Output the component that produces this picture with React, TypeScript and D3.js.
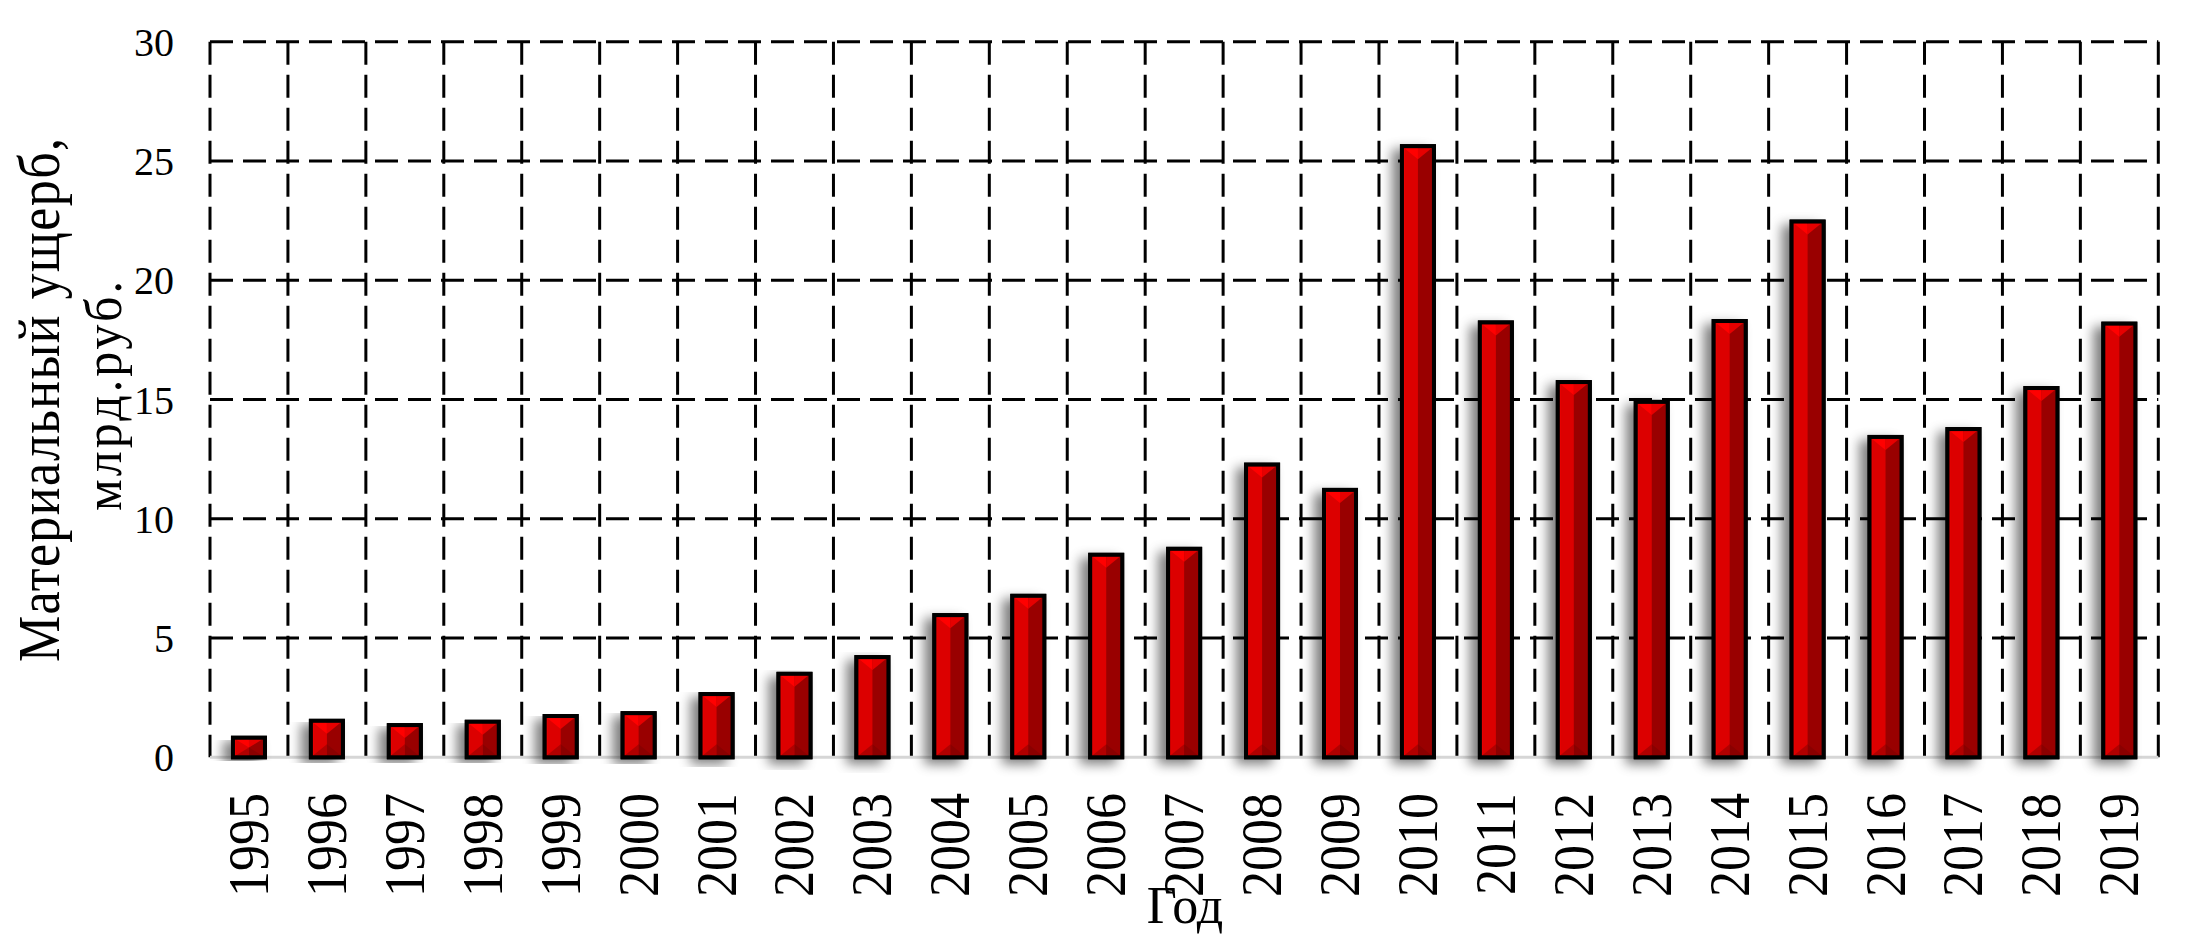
import React from 'react';
import * as d3 from 'd3';

const years = ['1995','1996','1997','1998','1999','2000','2001','2002','2003','2004','2005','2006','2007','2008','2009','2010','2011','2012','2013','2014','2015','2016','2017','2018','2019'];
const damage = [0.82,1.53,1.35,1.49,1.73,1.85,2.65,3.5,4.2,5.96,6.77,8.49,8.74,12.27,11.21,25.62,18.23,15.73,14.9,18.29,22.46,13.43,13.76,15.48,18.18];
const yTicks = [0,5,10,15,20,25,30];
const yTitle1 = 'Материальный ущерб,';
const yTitle2 = 'млрд.руб.';
const xTitle = 'Год';

const W = 2209, H = 943;
const left = 210, right = 2158.3, top = 41.7, bottom = 757.3;
const FONT = '"Liberation Serif", "Times New Roman", serif';

export default function App() {
  const x = d3.scaleBand<string>().domain(years).range([left, right]).padding(0);
  const y = d3.scaleLinear().domain([0, 30]).range([bottom, top]);
  const bw = x.bandwidth();
  const barW = 32;
  const boundaries = d3.range(years.length + 1).map(i => left + i * bw);

  return (
    <svg width={W} height={H} style={{ position: 'absolute', left: 0, top: 0, background: '#fff' }}>
      <defs>
        <filter id="sh" x="-100%" y="-10%" width="250%" height="125%">
          <feGaussianBlur in="SourceAlpha" stdDeviation="6" />
          <feOffset dx="-8" dy="5" result="b" />
          <feFlood floodColor="#000" floodOpacity="0.5" />
          <feComposite in2="b" operator="in" />
          <feMerge>
            <feMergeNode />
            <feMergeNode in="SourceGraphic" />
          </feMerge>
        </filter>
      </defs>
      <rect x={0} y={0} width={W} height={H} fill="#fff" />
      {/* horizontal gridlines */}
      {yTicks.filter(t => t > 0).map(t => (
        <line key={'h' + t} x1={left} x2={right} y1={y(t)} y2={y(t)} stroke="#000" strokeWidth={3} strokeDasharray="23 10" />
      ))}
      {/* vertical gridlines */}
      {boundaries.map((bx, i) => (
        <line key={'v' + i} x1={bx} x2={bx} y1={top} y2={bottom} stroke="#000" strokeWidth={3} strokeDasharray="23 10" />
      ))}
      {/* axis line */}
      <line x1={left} x2={right} y1={bottom} y2={bottom} stroke="#d6d6d6" strokeWidth={3} />
      {/* bars */}
      {years.map((yr, i) => {
        const cx = (x(yr) as number) + bw / 2;
        const xl = cx - barW / 2, xr = cx + barW / 2, xs = cx;
        const yt = y(damage[i]), yb = y(0);
        const h = yb - yt;
        const d = Math.min(13, h / 2);
        return (
          <g key={yr}>
            <g filter="url(#sh)">
              <rect x={xl} y={yt} width={barW} height={h} fill="#dc0000" stroke="#000" strokeWidth={4} />
            </g>
            <rect x={xs} y={yt} width={xr - xs} height={h} fill="#990000" />
            <rect x={xl} y={yt} width={3} height={h} fill="#e80000" />
            <polygon points={`${xl},${yt} ${xs},${yt} ${xs},${yt + d}`} fill="#ff0000" />
            <polygon points={`${xs},${yt} ${xr},${yt} ${xs},${yt + d}`} fill="#e60000" />
            <polygon points={`${xl},${yb} ${xs},${yb} ${xs},${yb - d}`} fill="#b00000" />
            <polygon points={`${xs},${yb} ${xr},${yb} ${xs},${yb - d}`} fill="#8a0000" />
            <rect x={xl} y={yt} width={barW} height={h} fill="none" stroke="#000" strokeWidth={4} />
          </g>
        );
      })}
      {/* y tick labels */}
      {yTicks.map(t => (
        <text key={'t' + t} x={174} y={y(t)} dy="0.35em" textAnchor="end" fontFamily={FONT} fontSize={40} fill="#000">{t}</text>
      ))}
      {/* x tick labels */}
      {years.map(yr => {
        const cx = (x(yr) as number) + bw / 2;
        return (
          <text key={'x' + yr} transform={`translate(${cx + 19},793) scale(1.1,1) rotate(-90)`} textAnchor="end" fontFamily={FONT} fontSize={52} fill="#000">{yr}</text>
        );
      })}
      {/* y title */}
      <text transform={`translate(59,400) scale(1.13,1) rotate(-90)`} textAnchor="middle" fontFamily={FONT} fontSize={52} textLength={524} lengthAdjust="spacing" fill="#000">{yTitle1}</text>
      <text transform={`translate(121,396) scale(1.05,1) rotate(-90)`} textAnchor="middle" fontFamily={FONT} fontSize={50} textLength={230} lengthAdjust="spacing" fill="#000">{yTitle2}</text>
      {/* x title */}
      <text x={1185} y={923} textAnchor="middle" fontFamily={FONT} fontSize={52} fill="#000">{xTitle}</text>
    </svg>
  );
}
